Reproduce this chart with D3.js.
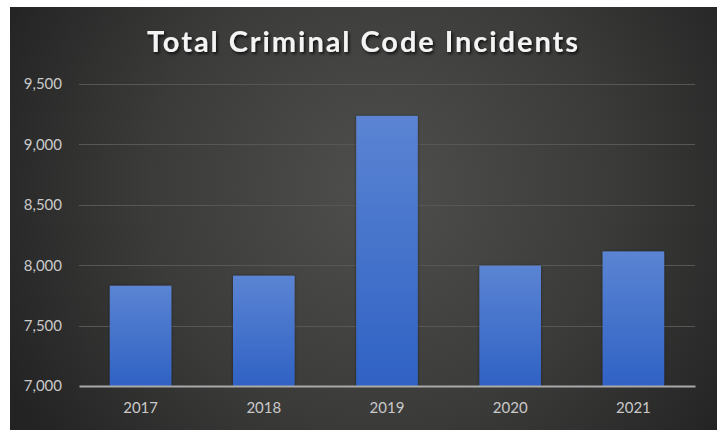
<!DOCTYPE html>
<html>
<head>
<meta charset="utf-8">
<script src="https://cdn.jsdelivr.net/npm/d3@7"></script>
<style>
  html, body { margin: 0; padding: 0; background: #ffffff; }
  svg { display: block; }
</style>
</head>
<body>
<svg id="chart" width="723" height="430"></svg>
<script>
// Yearly totals of criminal code incidents
const years = ["2017", "2018", "2019", "2020", "2021"];
const incidents = [7830, 7913, 9236, 7996, 8114];
const yTicks = [7000, 7500, 8000, 8500, 9000, 9500];
const titleText = "Total Criminal Code Incidents";

const svg = d3.select("#chart");
const panel = { x0: 10, y0: 7, x1: 717, y1: 430 };
const plot = { left: 79, right: 695, top: 84, bottom: 386 };

const defs = svg.append("defs");

// dark backdrop, lighter towards the middle
const bg = defs.append("radialGradient")
  .attr("id", "bgGrad")
  .attr("gradientUnits", "userSpaceOnUse")
  .attr("cx", 380).attr("cy", 190).attr("r", 420);
bg.append("stop").attr("offset", "0").attr("stop-color", "#4f4f4d");
bg.append("stop").attr("offset", "0.55").attr("stop-color", "#3b3b3a");
bg.append("stop").attr("offset", "1").attr("stop-color", "#232323");

const barGrad = defs.append("linearGradient")
  .attr("id", "barGrad")
  .attr("x1", 0).attr("y1", 0).attr("x2", 0).attr("y2", 1);
barGrad.append("stop").attr("offset", "0").attr("stop-color", "#5b84d3");
barGrad.append("stop").attr("offset", "1").attr("stop-color", "#2f62c4");

const shadow = defs.append("filter").attr("id", "textShadow")
  .attr("x", "-10%").attr("y", "-30%").attr("width", "120%").attr("height", "160%");
shadow.append("feDropShadow")
  .attr("dx", 1.5).attr("dy", 2).attr("stdDeviation", 1.5)
  .attr("flood-color", "#000").attr("flood-opacity", 0.75);

const barShadow = defs.append("filter").attr("id", "barShadow")
  .attr("x", "-20%").attr("y", "-10%").attr("width", "140%").attr("height", "120%");
barShadow.append("feDropShadow")
  .attr("dx", 0).attr("dy", 0).attr("stdDeviation", 1.5)
  .attr("flood-color", "#000").attr("flood-opacity", 0.45);

svg.append("rect")
  .attr("x", panel.x0).attr("y", panel.y0)
  .attr("width", panel.x1 - panel.x0).attr("height", panel.y1 - panel.y0)
  .attr("fill", "url(#bgGrad)");

const x = d3.scaleBand()
  .domain(years)
  .range([plot.left, plot.right])
  .paddingInner(0.5)
  .paddingOuter(0.25);

const y = d3.scaleLinear()
  .domain([7000, 9500])
  .range([plot.bottom, plot.top]);

// horizontal gridlines
svg.append("g")
  .selectAll("line")
  .data(yTicks.filter(t => t !== 7000))
  .join("line")
  .attr("x1", plot.left).attr("x2", plot.right)
  .attr("y1", d => Math.round(y(d)) + 0.5).attr("y2", d => Math.round(y(d)) + 0.5)
  .attr("stroke", "#575756").attr("stroke-width", 1.2);

// value axis labels
const yAxis = d3.axisLeft(y)
  .tickValues(yTicks)
  .tickFormat(d3.format(","))
  .tickSize(0)
  .tickPadding(17);
const gy = svg.append("g")
  .attr("transform", `translate(${plot.left},0)`)
  .call(yAxis);
gy.select(".domain").remove();
gy.selectAll("text")
  .attr("fill", "#c9c9c9")
  .style("font-family", "Lato, 'Open Sans', sans-serif")
  .style("font-size", "15px");

// bars
svg.append("g")
  .selectAll("rect")
  .data(years.map((yr, i) => ({ yr, v: incidents[i] })))
  .join("rect")
  .attr("x", d => x(d.yr))
  .attr("width", x.bandwidth())
  .attr("y", d => y(d.v))
  .attr("height", d => y(7000) - y(d.v))
  .attr("fill", "url(#barGrad)")
  .attr("filter", "url(#barShadow)");

// category axis
const xAxis = d3.axisBottom(x).tickSize(0).tickPadding(16);
const gx = svg.append("g")
  .attr("transform", `translate(0,${plot.bottom})`)
  .call(xAxis);
gx.select(".domain")
  .attr("stroke", "#a9a9a9").attr("stroke-width", 2);
gx.selectAll("text")
  .attr("fill", "#c9c9c9")
  .style("font-family", "Lato, 'Open Sans', sans-serif")
  .style("font-size", "15px");

// title
svg.append("text")
  .attr("x", 362.5).attr("y", 52)
  .attr("text-anchor", "middle")
  .attr("fill", "#f4f4f4")
  .attr("filter", "url(#textShadow)")
  .attr("textLength", 431)
  .attr("lengthAdjust", "spacing")
  .style("font-family", "Lato, 'Open Sans', sans-serif")
  .style("font-weight", "bold")
  .style("font-size", "29px")
  .text(titleText);
</script>
</body>
</html>
